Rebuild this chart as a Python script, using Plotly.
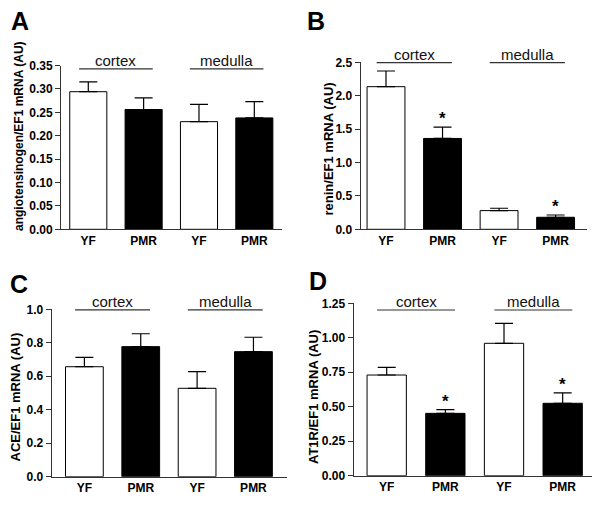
import plotly.graph_objects as go

# ---------------- data ----------------
groups = ["YF", "PMR", "YF", "PMR"]
regions = ["cortex", "medulla"]

angiotensinogen_mean = [0.294, 0.256, 0.230, 0.238]
angiotensinogen_sem = [0.021, 0.025, 0.037, 0.035]

renin_mean = [2.135, 1.36, 0.28, 0.18]
renin_sem = [0.235, 0.17, 0.035, 0.034]
renin_sig = [False, True, False, True]

ace_mean = [0.657, 0.777, 0.528, 0.747]
ace_sem = [0.056, 0.077, 0.10, 0.086]

at1r_mean = [0.730, 0.452, 0.960, 0.525]
at1r_sem = [0.056, 0.027, 0.145, 0.075]
at1r_sig = [False, True, False, True]

panel_letters = ["A", "B", "C", "D"]
y_titles = ["angiotensinogen/EF1 mRNA (AU)", "renin/EF1 mRNA (AU)",
            "ACE/EF1 mRNA (AU)", "AT1R/EF1 mRNA (AU)"]
y_max = [0.35, 2.5, 1.0, 1.25]
y_dtick = [0.05, 0.5, 0.2, 0.25]
y_fmt = [".2f", ".1f", ".1f", ".2f"]

# ---------------- layout geometry (pixels) ----------------
W, H = 600, 506
FONT = "Liberation Sans, Arial, sans-serif"
AXC = "#333333"

panels = [
    dict(mean=angiotensinogen_mean, sem=angiotensinogen_sem, sig=[False] * 4,
         xpx=(61, 282), ypx=(65.5, 229.3), xr=(-0.493, 3.5), line_y=0.979,
         letter=(9, 5), title=(18.5, 136.5), tsize=12),
    dict(mean=renin_mean, sem=renin_sem, sig=renin_sig,
         xpx=(360.5, 586.7), ypx=(62.3, 229.3), xr=(-0.451, 3.55), line_y=0.998,
         letter=(305, 5), title=(328, 149.5), tsize=13),
    dict(mean=ace_mean, sem=ace_sem, sig=[False] * 4,
         xpx=(51.7, 286.7), ypx=(309.3, 476.7), xr=(-0.58, 3.59), line_y=0.996,
         letter=(8, 268), title=(15, 397.5), tsize=13),
    dict(mean=at1r_mean, sem=at1r_sem, sig=at1r_sig,
         xpx=(353.5, 592), ypx=(303.3, 475.7), xr=(-0.566, 3.5), line_y=0.961,
         letter=(307, 265), title=(313, 397), tsize=13),
]


def fx(x):
    return x / W


def fy(y):
    return 1 - y / H


fig = go.Figure()
layout = dict(width=W, height=H, margin=dict(l=0, r=0, t=0, b=0, pad=0),
              template="none",
              paper_bgcolor="white", plot_bgcolor="white", showlegend=False,
              font=dict(family=FONT, color="black"))
annotations = []
shapes = []
xpos = list(range(len(groups)))
colors = ["white" if g == "YF" else "black" for g in groups]

for k, p in enumerate(panels):
    n = "" if k == 0 else str(k + 1)
    xa, ya = "x" + n, "y" + n
    fig.add_trace(go.Bar(
        x=xpos, y=p["mean"], width=0.67, xaxis=xa, yaxis=ya,
        marker=dict(color=colors, line=dict(color="black", width=1)),
        error_y=dict(type="data", symmetric=False, array=p["sem"],
                     arrayminus=[0] * len(groups), color="black",
                     thickness=1.2, width=9),
        hoverinfo="skip", showlegend=False,
    ))
    layout["xaxis" + n] = dict(
        domain=[fx(p["xpx"][0]), fx(p["xpx"][1])], range=list(p["xr"]),
        anchor=ya, tickvals=xpos, ticktext=groups, ticks="",
        showline=True, linecolor=AXC, linewidth=1, showgrid=False,
        zeroline=False, fixedrange=True, automargin=False,
        tickfont=dict(family=FONT, size=12, color="black", weight="bold"))
    layout["yaxis" + n] = dict(
        domain=[fy(p["ypx"][1]), fy(p["ypx"][0])], range=[0, y_max[k]],
        anchor=xa, dtick=y_dtick[k], tick0=0, tickformat=y_fmt[k],
        ticks="outside", ticklen=5, tickcolor=AXC, tickwidth=1,
        showline=True, linecolor=AXC, linewidth=1, showgrid=False,
        zeroline=False, fixedrange=True, automargin=False,
        tickfont=dict(family=FONT, size=12, color="black", weight="bold"))

    # panel letter
    annotations.append(dict(
        text=panel_letters[k], xref="paper", yref="paper",
        x=fx(p["letter"][0]), y=fy(p["letter"][1]), xanchor="left",
        yanchor="top", showarrow=False,
        font=dict(family=FONT, size=25, color="black", weight="bold")))
    # y-axis title
    annotations.append(dict(
        text=y_titles[k], xref="paper", yref="paper",
        x=fx(p["title"][0]), y=fy(p["title"][1]), xanchor="center",
        yanchor="middle", textangle=-90, showarrow=False,
        font=dict(family=FONT, size=p["tsize"], color="black", weight="bold")))
    # region brackets
    for r, name in enumerate(regions):
        mid = 2 * r + 0.5
        shapes.append(dict(type="line", xref=xa, yref=ya + " domain",
                           x0=mid - 0.665, x1=mid + 0.665,
                           y0=p["line_y"], y1=p["line_y"],
                           line=dict(color=AXC, width=1.2)))
        annotations.append(dict(
            text=name, xref=xa, yref=ya + " domain", x=mid, y=p["line_y"],
            xanchor="center", yanchor="bottom", showarrow=False, yshift=-2,
            font=dict(family=FONT, size=15, color="#111111")))
    # significance asterisks
    for i, s in enumerate(p["sig"]):
        if s:
            annotations.append(dict(
                text="*", xref=xa, yref=ya, x=xpos[i],
                y=p["mean"][i] + p["sem"][i], xanchor="center",
                yanchor="bottom", yshift=-3, showarrow=False,
                font=dict(family=FONT, size=17, color="black", weight="bold")))

layout["annotations"] = annotations
layout["shapes"] = shapes
fig.update_layout(**layout)
fig.write_html("out.html",
               config={"displayModeBar": False, "staticPlot": True},
               post_script="document.body.style.margin='0';"
                           "document.body.style.padding='0';")
